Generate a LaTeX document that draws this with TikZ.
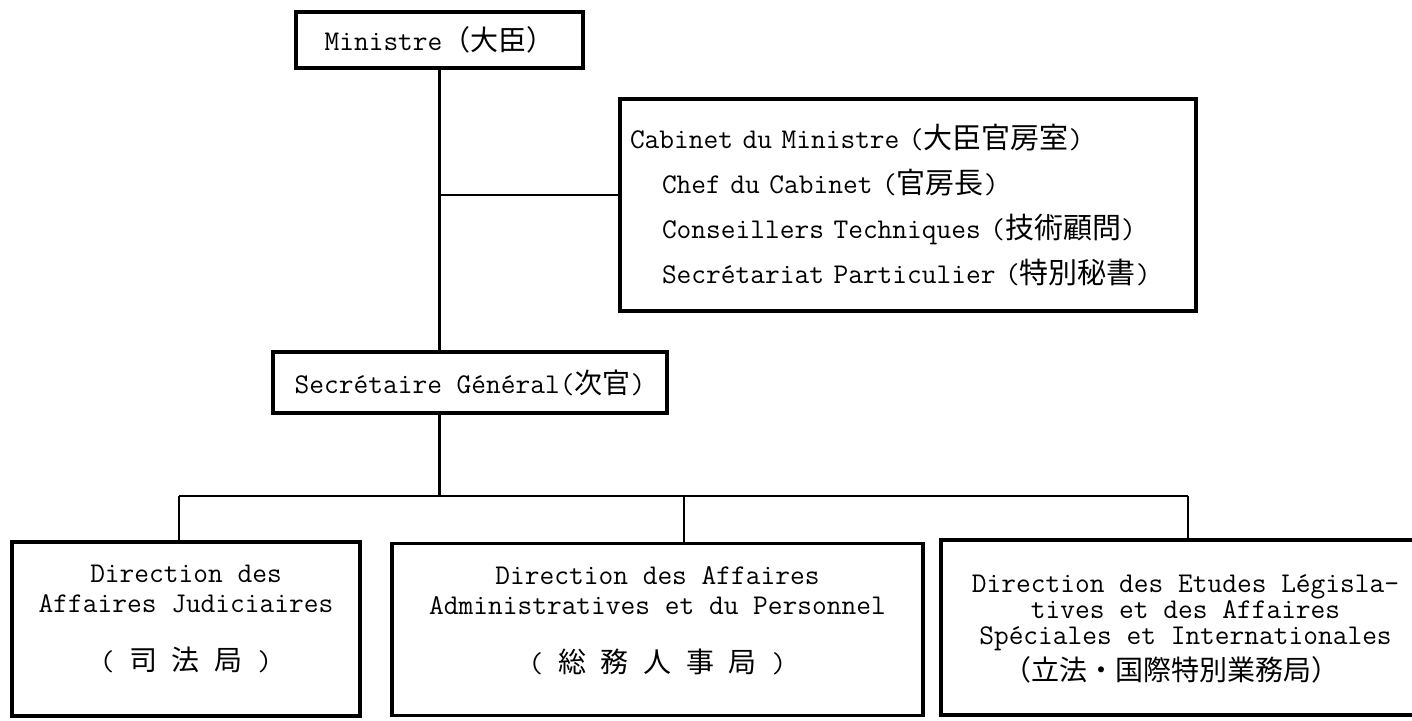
\documentclass[tikz,border=0pt]{standalone}
\usepackage{fontspec}
\newfontfamily\jpfont{Noto Sans CJK JP}
\newcommand{\jp}[1]{{\jpfont\fontsize{14}{14}\selectfont #1}}
\newcommand{\jpl}[1]{{\jpfont\fontsize{14.5}{14.5}\selectfont #1}}

\begin{document}
\begin{tikzpicture}[
  x=0.5pt,y=-0.5pt,
  font=\ttfamily\fontsize{14.3}{15}\selectfont,
  office/.style={draw,line width=1.6pt,inner sep=0pt,align=center},
  link/.style={line width=1.2pt},
]
\useasboundingbox (0,0) rectangle (1412,721);
\node[office,minimum width=143.5pt,minimum height=28pt] (min) at (439.5,40) {Ministre\jp{（大臣）}};
\node[office,minimum width=288pt,minimum height=106pt,text width=278pt,align=left,
  font=\ttfamily\fontsize{14.3}{22.5}\selectfont] (cab) at (908,205)
  {Cabinet du Ministre (\jpl{大臣官房室})\\
   \hspace*{16pt}Chef du Cabinet (\jpl{官房長})\\
   \hspace*{16pt}Conseillers Techniques (\jpl{技術顧問})\\
   \hspace*{16pt}Secrétariat Particulier (\jpl{特別秘書})};
\node[office,minimum width=197pt,minimum height=30.5pt] (sg) at (470,382.5) {Secrétaire Général(\jp{次官})};
\node[office,minimum width=174pt,minimum height=87pt,text depth=11pt] (dj) at (186,629)
  {Direction des\\Affaires Judiciaires\\[14pt]( \jp{司} \jp{法} \jp{局} )};
\node[office,minimum width=265.5pt,minimum height=86pt,text depth=10pt] (dap) at (657.5,629.5)
  {Direction des Affaires\\Administratives et du Personnel\\[14pt]( \jp{総} \jp{務} \jp{人} \jp{事} \jp{局} )};
\node[office,minimum width=244.5pt,minimum height=87.5pt,text depth=-16pt,
  font=\ttfamily\fontsize{14.3}{13}\selectfont] (dei) at (1185.5,627.5)
  {Direction des Etudes Législa-\\tives et des Affaires\\Spéciales et Internationales\\[2pt]\jp{（立法・国際特別業務局）}\hspace*{14pt}};
\coordinate (cabjoin) at (439.5,195);
\coordinate (bus) at (439.5,496);
\coordinate (drop1) at (179,496);
\coordinate (drop2) at (684,496);
\coordinate (drop3) at (1188,496);
\draw[link] (min.south) -- (min.south |- sg.north);
\draw[link] (cabjoin) -- (cabjoin -| cab.west);
\draw[link] (min.south |- sg.south) -- (bus);
\draw[link] (drop1) -- (drop3);
\draw[link] (drop1) -- (drop1 |- dj.north);
\draw[link] (drop2) -- (drop2 |- dap.north);
\draw[link] (drop3) -- (drop3 |- dei.north);
\end{tikzpicture}
\end{document}
